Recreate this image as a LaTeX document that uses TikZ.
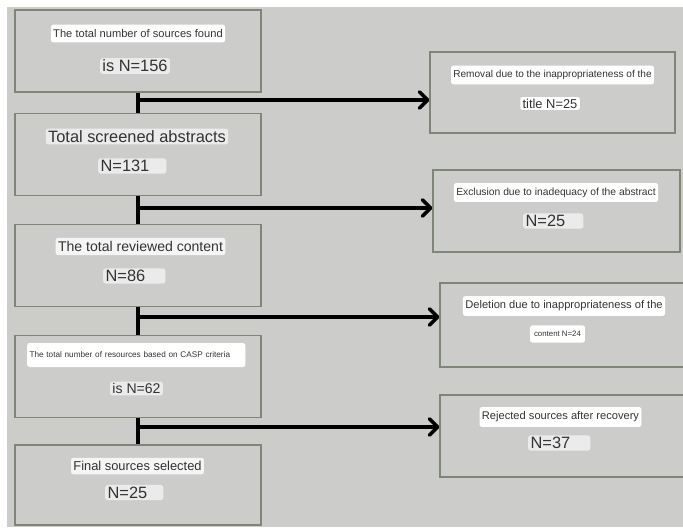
\documentclass[tikz,border=0pt]{standalone}
\usepackage{fontspec}
\setmainfont{Liberation Sans}
\usetikzlibrary{arrows.meta}

\definecolor{paper}{HTML}{CCCDCB}
\definecolor{frame}{HTML}{7E8777}
\definecolor{ink}{HTML}{333333}
\definecolor{chip}{HTML}{EBEBEB}

\tikzset{
  stage/.style={draw=frame, line width=1pt, fill=paper, minimum width=7.38cm, minimum height=2.46cm},
  tag/.style={fill=white, rounded corners=2pt, text=ink, inner xsep=2pt, inner ysep=4pt},
  chiptag/.style={tag, fill=chip, inner ysep=1.5pt},
  big/.style={font=\fontsize{14}{16}\selectfont},
  mid/.style={font=\fontsize{12}{14}\selectfont},
  small/.style={font=\fontsize{9.5}{11}\selectfont},
  tiny/.style={font=\fontsize{7}{8}\selectfont},
  flow/.style={line width=3pt, black},
  flowarrow/.style={flow, -{Straight Barb[length=7pt,width=14pt,round]}}
}

\begin{document}
\begin{tikzpicture}[x=0.03cm,y=-0.03cm]
\useasboundingbox (0,0) rectangle (683,527);
\fill[white] (0,0) rectangle (683,527);
\fill[paper] (7,7) rectangle (683,527); %background

% left column
\node[stage] (found)    at (138,51)    {};
\node[stage] (screened) at (138,154.5) {};
\node[stage] (reviewed) at (138,265.5) {};
\node[stage] (casp)     at (138,376.5) {};
\node[stage, minimum height=2.4cm] (final) at (138,485) {};

% right column
\node[stage, minimum width=7.35cm, minimum height=2.43cm] (removal)   at (552.5,92.5) {};
\node[stage, minimum width=7.41cm, minimum height=2.46cm] (exclusion) at (556.5,211)  {};
\node[stage, minimum width=7.32cm, minimum height=2.52cm] (deletion)  at (562,325)    {};
\node[stage, minimum width=7.32cm, minimum height=2.46cm] (rejected)  at (562,436)    {};

% texts left
\node[tag, small]  (foundtxt) at (138,33.5) {The total number of sources found};
\node[chiptag, big] (foundn)  at (135,66)   {is N=156};

\node[chiptag, big] (screenedtxt) at (137,136.5) {Total screened abstracts};
\node[chiptag, big, anchor=west, text width=1.9cm, align=left] (screenedn) at (98,166) {N=131};

\node[chiptag, mid, fill=chip!50, inner ysep=3pt] (reviewedtxt) at (140.5,246.5) {The total reviewed content};
\node[chiptag, big, anchor=west, text width=1.72cm, align=left] (reviewedn) at (103,276) {N=86};

\node[tag, tiny, anchor=west, text width=6.4cm, align=left, minimum height=0.72cm] (casptxt) at (27,355) {The total number of resources based on CASP criteria};
\node[chiptag, mid] (caspn) at (136.5,388.5) {is N=62};

\node[chiptag, fill=chip!50, font=\fontsize{11}{13}\selectfont, inner ysep=3pt] (finaltxt) at (137.5,466) {Final sources selected};
\node[chiptag, big, anchor=west, text width=1.6cm, align=left] (finaln) at (105,492.5) {N=25};

% texts right
\node[tag, font=\fontsize{8.6}{10}\selectfont] (removaltxt) at (552.5,75) {Removal due to the inappropriateness of the};
\node[tag, font=\fontsize{11}{13}\selectfont, inner ysep=1.5pt] (removaln) at (550,103.5) {title N=25};

\node[tag, font=\fontsize{8.8}{10}\selectfont] (exclusiontxt) at (556,192.5) {Exclusion due to inadequacy of the abstract};
\node[chiptag, big, anchor=west, text width=1.66cm, align=left] (exclusionn) at (523,221) {N=25};

\node[tag, small] (deletiontxt) at (564,306) {Deletion due to inappropriateness of the};
\node[tag, font=\fontsize{6.7}{8}\selectfont, inner xsep=3.4pt, inner ysep=5pt] (deletionn) at (557.5,334) {content N=24};

\node[tag, small] (rejectedtxt) at (560.5,417) {Rejected sources after recovery};
\node[chiptag, big, anchor=west, text width=1.72cm, align=left] (rejectedn) at (528,443) {N=37};

% connectors
\draw[flow] (found) -- (screened);
\draw[flow] (screened) -- (reviewed);
\draw[flow] (reviewed) -- (casp);
\draw[flow] (casp) -- (final);

\coordinate (j1) at (138,100);
\coordinate (j2) at (138,208);
\coordinate (j3) at (138,317);
\coordinate (j4) at (138,427);

\draw[flowarrow] (j1) -- (j1 -| removal.west);
\draw[flowarrow] (j2) -- (j2 -| exclusion.west);
\draw[flowarrow] (j3) -- (j3 -| deletion.west);
\draw[flowarrow] (j4) -- (j4 -| rejected.west);

\end{tikzpicture}
\end{document}
